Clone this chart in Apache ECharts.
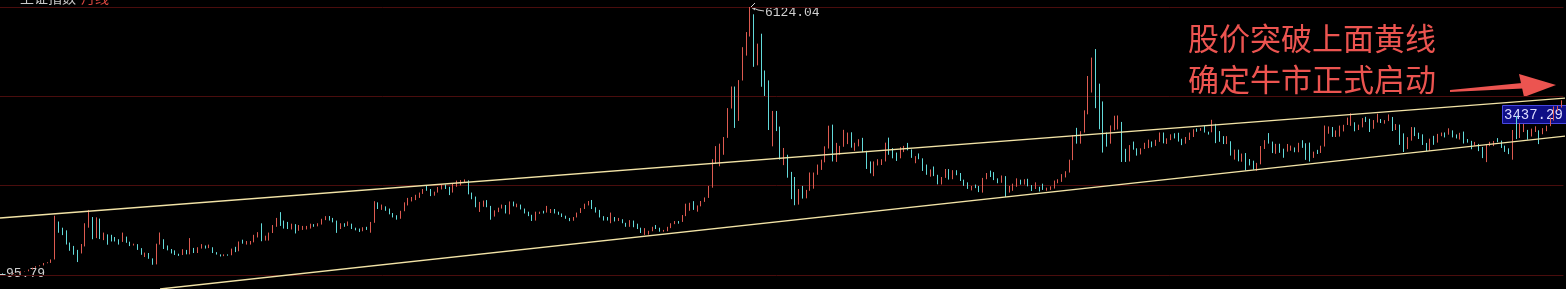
<!DOCTYPE html>
<html>
<head>
<meta charset="utf-8">
<script src="https://cdn.jsdelivr.net/npm/echarts@6/dist/echarts.min.js"></script>
<style>
html,body{margin:0;padding:0;background:#000;overflow:hidden;}
#wrap{position:relative;width:1566px;height:289px;overflow:hidden;}
#c{position:absolute;left:-11px;top:0;width:1580px;height:289px;}
</style>
</head>
<body>
<div id="wrap"><div id="c"></div></div>
<script>
// 上证指数 monthly K-line, Dec 1990 .. Oct 2025
const startYear = 1990, startMonth = 12;

const opens = [
  96,
  128,130,133,120,114,115,138,145,180,180,218,260,
  293,313,365,370,445,1266,1078,1049,825,705,628,617,
  780,1229,1389,925,1359,935,1007,913,892,889,846,953,
  834,770,785,681,555,588,467,334,793,870,702,664,
  648,563,549,651,596,701,630,709,719,712,716,598,
  555,537,549,545,659,634,825,816,836,838,981,1018,
  917,966,1042,1197,1350,1300,1243,1194,1209,1097,1178,1180,
  1194,1229,1212,1242,1343,1411,1339,1316,1167,1242,1217,1248,
  1147,1134,1090,1158,1120,1279,1689,1601,1627,1568,1473,1429,
  1367,1534,1714,1800,1836,1894,1928,2023,2021,1910,1961,2070,
  2073,2065,1959,2112,2119,2214,2218,1920,1834,1642,1689,1747,
  1646,1491,1524,1603,1667,1515,1732,1651,1666,1581,1507,1433,
  1358,1500,1511,1510,1521,1576,1487,1476,1421,1367,1348,1397,
  1497,1590,1675,1741,1595,1555,1399,1386,1342,1396,1321,1340,
  1267,1191,1306,1181,1159,1060,1080,1083,1162,1155,1092,1099,
  1161,1258,1299,1298,1440,1641,1672,1612,1658,1752,1837,2099,
  2675,2786,2881,3183,3841,4109,3820,4471,5218,5552,5954,4871,
  5262,4383,4348,3473,3693,3433,2736,2775,2397,2293,1728,1871,
  1821,1990,2082,2373,2477,2632,2959,3412,2667,2779,2995,3195,
  3277,2989,3051,3109,2870,2592,2398,2637,2638,2656,2979,2820,
  2808,2790,2905,2928,2911,2743,2762,2701,2567,2359,2468,2333,
  2199,2292,2428,2262,2396,2372,2225,2103,2047,2086,2068,1980,
  2269,2385,2365,2236,2177,2300,1979,1993,2098,2175,2141,2220,
  2116,2033,2056,2033,2026,2039,2048,2201,2217,2364,2420,2682,
  3235,3210,3310,3748,4441,4612,4277,3664,3206,3053,3383,3446,
  3539,2738,2688,3004,2938,2917,2930,2979,3085,3005,3100,3250,
  3104,3159,3242,3223,3155,3117,3192,3273,3361,3349,3393,3317,
  3307,3481,3259,3169,3082,3095,2847,2876,2725,2821,2603,2588,
  2494,2585,2941,3091,3078,2899,2979,2932,2886,2905,2929,2872,
  3050,2977,2880,2750,2860,2852,2985,3310,3396,3218,3225,3392,
  3473,3483,3509,3442,3447,3615,3591,3397,3544,3568,3547,3564,
  3640,3362,3462,3252,3047,3186,3399,3253,3202,3024,2893,3151,
  3089,3256,3280,3273,3323,3205,3202,3291,3120,3110,3018,3030,
  2975,2789,3015,3041,3105,3087,2967,2939,2842,3336,3279,3326,
  3352,3251,3321,3336,3279,3347,3444,3573,3858,3883
];

const highs = [
  128,
  135,134,135,121,115,138,146,181,182,219,260,293,
  314,365,383,446,1429.01,1299,1160,1100,826,750,661,793,
  1260,1558.95,1400,1393,1365,1050,1010,1000,950,900,1050,960,
  845,800,790,700,600,590,470,800,1052,900,760,680,
  650,575,675,660,926,705,720,790,760,780,720,610,
  560,560,560,690,730,850,890,860,860,1000,1060,1258,
  980,1050,1220,1380,1510,1320,1290,1250,1240,1220,1200,1200,
  1250,1240,1260,1360,1420,1422,1380,1320,1260,1260,1300,1250,
  1160,1140,1170,1180,1290,1756,1730,1680,1640,1590,1490,1440,
  1540,1730,1830,1850,1900,1950,2030,2100,2030,1970,2075,2126,
  2131,2080,2150,2220,2230,2245,2225,1950,1860,1740,1770,1780,
  1650,1550,1610,1680,1670,1750,1748,1700,1680,1590,1520,1450,
  1520,1520,1540,1650,1580,1580,1520,1480,1430,1380,1400,1500,
  1600,1700,1760,1783,1620,1560,1420,1400,1500,1400,1380,1350,
  1270,1330,1320,1250,1160,1150,1090,1180,1220,1160,1110,1180,
  1260,1310,1310,1445,1700,1720,1757,1660,1760,1840,2100,2700,
  2995,3050,3200,3850,4336,4335,4480,5220,5560,6124.04,5960,5300,
  5523,4696,4473,3786,3786,3434,2953,2800,2415,2300,2030,2100,
  2010,2402,2400,2580,2690,2990,3454,3478,3068,3000,3361,3300,
  3306,3070,3150,3181,2890,2650,2650,2700,2700,3073,3186,2950,
  2850,2970,3000,3067,2920,2770,2830,2720,2580,2470,2536,2350,
  2300,2480,2478,2454,2453,2390,2240,2180,2100,2130,2100,2280,
  2390,2444,2410,2270,2334,2320,2100,2150,2270,2240,2250,2260,
  2120,2180,2080,2150,2060,2090,2220,2250,2365,2430,2690,3239,
  3406,3330,3800,4572,4986,5178,4400,4000,3300,3460,3678,3684,
  3539,2934,3018,3097,2946,2945,3070,3140,3100,3136,3302,3301,
  3170,3260,3284,3295,3160,3200,3300,3375,3392,3400,3451,3320,
  3587,3495,3333,3220,3219,3104,2916,2915,2827,2839,2704,2667,
  2618,2997,3129,3288,3097,3046,3048,2937,3043,3006,2965,3069,
  3127,3059,3074,2870,2911,3004,3458,3437,3425,3348,3456,3474,
  3637,3732,3531,3477,3625,3654,3609,3581,3723,3604,3580,3708,
  3651,3491,3478,3282,3197,3424,3418,3296,3260,3067,3162,3226,
  3270,3300,3302,3396,3349,3258,3294,3322,3154,3114,3090,3044,
  2976,3030,3091,3111,3175,3118,3006,2945,3358,3674,3510,3494,
  3360,3388,3440,3350,3400,3455,3637,3888,3900,4025
];

const lows = [
  95.79,
  127,130,120,105,104,114,137,145,173,180,218,259,
  292,312,360,368,445,1046,993,781,640,551,387,580,
  738,1160,900,925,904,880,777,850,850,780,840,820,
  746,760,660,550,500,460,326,334,780,680,650,580,
  545,525,545,560,560,590,590,690,690,700,590,555,
  512,520,530,540,610,630,800,780,780,830,940,855,
  870,870,1040,1180,1200,1140,1130,1120,1030,1090,1110,1120,
  1140,1180,1190,1230,1330,1320,1280,1043,1130,1180,1200,1130,
  1100,1064,1080,1110,1047,1270,1580,1560,1540,1460,1390,1341,
  1361,1530,1660,1750,1780,1830,1920,1990,1870,1880,1950,2020,
  2030,1893,1950,2080,2110,2170,1910,1800,1620,1514,1630,1620,
  1339,1410,1510,1590,1480,1460,1640,1620,1570,1480,1420,1311,
  1320,1470,1480,1500,1490,1480,1450,1400,1360,1307,1316,1390,
  1490,1580,1660,1580,1500,1390,1320,1320,1260,1300,1310,1260,
  1180,1180,1170,1130,1040,998,1004,1080,1130,1070,1070,1080,
  1150,1240,1250,1290,1420,1540,1560,1520,1640,1740,1830,2060,
  2605,2541,2800,3180,3840,3404,3563,4470,5030,5460,4778,4812,
  4330,4123,3357,2990,3333,2693,2567,2284,1802,1665,1679,1814,
  1820,1990,2037,2350,2460,2630,2940,2650,2639,2800,2980,3040,
  2960,2890,2990,2860,2481,2382,2319,2560,2570,2650,2800,2720,
  2661,2720,2860,2900,2730,2610,2700,2437,2350,2307,2320,2135,
  2132,2280,2242,2250,2340,2210,2100,2032,1999,2050,1960,1949,
  2250,2300,2230,2160,2170,1850,1950,1990,2080,2130,2130,2090,
  1985,2030,1974,2010,1991,2010,2040,2160,2190,2290,2400,2680,
  3050,3050,3300,3710,4200,3848,3374,2850,2983,3050,3350,3370,
  2638,2638,2650,2915,2781,2808,2930,2950,2969,3000,3090,3057,
  3044,3130,3167,3097,3017,3050,3132,3200,3317,3340,3300,3254,
  3306,3062,3091,3041,3041,2782,2691,2653,2644,2449,2560,2463,
  2440,2585,2930,3051,2838,2822,2844,2733,2870,2891,2857,2857,
  2956,2685,2647,2730,2818,2840,2985,3273,3202,3200,3209,3325,
  3470,3451,3328,3357,3417,3536,3312,3385,3526,3514,3499,3558,
  3334,3357,3023,2863,2928,3118,3220,3155,3021,2885,2885,3024,
  3074,3218,3190,3252,3190,3167,3143,3053,3073,2924,3005,2882,
  2725,2635,2994,2995,3083,2953,2865,2815,2689,3153,3177,3311,
  3140,3211,3313,3040,3262,3330,3443,3569,3779,3862
];

const closes = [
  128,
  130,133,120,114,115,138,145,180,180,218,260,293,
  313,365,370,445,1266,1078,1049,825,705,628,617,780,
  1229,1389,925,1359,935,1007,913,892,889,846,953,834,
  770,785,681,555,588,467,334,793,870,702,664,648,
  563,549,651,596,701,630,709,719,712,716,598,555,
  537,549,545,659,634,825,816,836,838,981,1018,917,
  966,1042,1197,1350,1300,1243,1194,1209,1097,1178,1180,1194,
  1229,1212,1242,1343,1411,1339,1316,1167,1242,1217,1248,1147,
  1134,1090,1158,1120,1279,1689,1601,1627,1568,1473,1429,1367,
  1534,1714,1800,1836,1894,1928,2023,2021,1910,1961,2070,2073,
  2065,1959,2112,2119,2214,2218,1920,1834,1642,1689,1747,1646,
  1491,1524,1603,1667,1515,1732,1651,1666,1581,1507,1433,1358,
  1500,1511,1510,1521,1576,1487,1476,1421,1367,1348,1397,1497,
  1590,1675,1741,1595,1555,1399,1386,1342,1396,1321,1340,1267,
  1191,1306,1181,1159,1060,1080,1083,1162,1155,1092,1099,1161,
  1258,1299,1298,1440,1641,1672,1612,1658,1752,1837,2099,2675,
  2786,2881,3183,3841,4109,3820,4471,5218,5552,5954,4871,5262,
  4383,4348,3473,3693,3433,2736,2775,2397,2293,1728,1871,1821,
  1990,2082,2373,2477,2632,2959,3412,2667,2779,2995,3195,3277,
  2989,3051,3109,2870,2592,2398,2637,2638,2656,2979,2820,2808,
  2790,2905,2928,2911,2743,2762,2701,2567,2359,2468,2333,2199,
  2292,2428,2262,2396,2372,2225,2103,2047,2086,2068,1980,2269,
  2385,2365,2236,2177,2300,1979,1993,2098,2175,2141,2220,2116,
  2033,2056,2033,2026,2039,2048,2201,2217,2364,2420,2682,3235,
  3210,3310,3748,4441,4612,4277,3664,3206,3053,3383,3446,3539,
  2738,2688,3004,2938,2917,2930,2979,3085,3005,3100,3250,3104,
  3159,3242,3223,3155,3117,3192,3273,3361,3349,3393,3317,3307,
  3481,3259,3169,3082,3095,2847,2876,2725,2821,2603,2588,2494,
  2585,2941,3091,3078,2899,2979,2932,2886,2905,2929,2872,3050,
  2977,2880,2750,2860,2852,2985,3310,3396,3218,3225,3392,3473,
  3483,3509,3442,3447,3615,3591,3397,3544,3568,3547,3564,3640,
  3362,3462,3252,3047,3186,3399,3253,3202,3024,2893,3151,3089,
  3256,3280,3273,3323,3205,3202,3291,3120,3110,3018,3030,2975,
  2789,3015,3041,3105,3087,2967,2939,2842,3336,3279,3326,3352,
  3251,3321,3336,3279,3347,3444,3573,3858,3883,3955
];

// channel (trend) lines: [month index, index value]
const upperChannel = [[2.36, 1378], [419.2, 4077]];
const lowerChannel = [[44.95, -219], [419.2, 3222]];

// texts
const titleMain = '上证指数';
const titlePeriod = '月线';
const maxLabel = '6124.04';
const minLabel = '95.79';
const lastLabel = '3437.29';
const noteLine1 = '股价突破上面黄线';
const noteLine2 = '确定牛市正式启动';

const yMin = 95.79, yMax = 6124.04;

const months = [];
for (let i = 0; i < closes.length; i++) {
  const m = startMonth - 1 + i;
  const y = startYear + Math.floor(m / 12);
  const mm = (m % 12) + 1;
  months.push(y + '-' + (mm < 10 ? '0' + mm : mm));
}
const kData = closes.map((c, i) => [opens[i], c, lows[i], highs[i]]);

const UP = '#dd5a50', DOWN = '#62dada', YEL = '#f2e3a6', NOTE = '#ec5450';

// the chart canvas is shifted 11px left (the first candles are scrolled off-screen);
// OX converts screen x positions of the overlay annotations into canvas x
const OX = 11;
const chart = echarts.init(document.getElementById('c'), null, {renderer: 'canvas'});
const N = closes.length;
const band = 3.757;

chart.setOption({
  backgroundColor: '#000',
  animation: false,
  grid: {left: 0.25, top: 7, width: band * N, height: 268, containLabel: false},
  xAxis: [
    {type: 'category', data: months, boundaryGap: true, show: false},
    {type: 'value', min: -0.5, max: N - 0.5, show: false}
  ],
  yAxis: [
    {type: 'value', min: yMin, max: yMax, show: false, splitLine: {show: false}},
    {type: 'value', min: 0, max: 3, interval: 1, show: true,
     axisLine: {show: false}, axisTick: {show: false}, axisLabel: {show: false},
     splitLine: {show: true, lineStyle: {color: '#4a0d0d', width: 1}}}
  ],
  series: [
    {
      type: 'candlestick', xAxisIndex: 0, yAxisIndex: 0,
      data: kData, barWidth: 1,
      itemStyle: {color: UP, color0: DOWN, borderColor: UP, borderColor0: DOWN, borderWidth: 1}
    },
    {
      type: 'line', xAxisIndex: 1, yAxisIndex: 0, data: upperChannel,
      symbol: 'none', clip: false, silent: true,
      lineStyle: {color: YEL, width: 1.4}
    },
    {
      type: 'line', xAxisIndex: 1, yAxisIndex: 0, data: lowerChannel,
      symbol: 'none', clip: false, silent: true,
      lineStyle: {color: YEL, width: 1.4}
    }
  ],
  graphic: [
    {type: 'text', x: OX + 20, y: -2, style: {text: titleMain, fill: '#c8c8c8', font: '14px "Noto Sans CJK SC"', verticalAlign: 'middle'}},
    {type: 'text', x: OX + 81, y: -2, style: {text: titlePeriod, fill: '#d8453f', font: '14px "Noto Sans CJK SC"', verticalAlign: 'middle'}},
    // max marker
    {type: 'polyline', shape: {points: [[OX + 755, 3], [OX + 751, 7], [OX + 755, 10]]}, style: {stroke: '#d0d0d0', lineWidth: 1, fill: null}},
    {type: 'polyline', shape: {points: [[OX + 751, 7], [OX + 758, 10], [OX + 764, 11]]}, style: {stroke: '#d0d0d0', lineWidth: 1, fill: null}},
    {type: 'text', x: OX + 765, y: 13, style: {text: maxLabel, fill: '#d0d0d0', font: '13px "Liberation Mono"', verticalAlign: 'middle'}},
    // min marker
    {type: 'line', shape: {x1: OX + 0, y1: 274.5, x2: OX + 5, y2: 274.5}, style: {stroke: '#d0d0d0', lineWidth: 1}},
    {type: 'text', x: OX + 6, y: 274, style: {text: minLabel, fill: '#d0d0d0', font: '13px "Liberation Mono"', verticalAlign: 'middle', backgroundColor: '#000'}},
    // last price box
    {type: 'rect', shape: {x: OX + 1502.5, y: 105.5, width: 66, height: 18}, style: {fill: '#0e0e86', stroke: '#4848e0', lineWidth: 1}},
    {type: 'text', x: OX + 1504, y: 115, style: {text: lastLabel, fill: '#dcdcff', font: '14px "Liberation Mono"', verticalAlign: 'middle'}},
    // note text
    {type: 'text', x: OX + 1188, y: 38, style: {text: noteLine1, fill: NOTE, font: '31px "Noto Sans CJK SC"', verticalAlign: 'middle'}},
    {type: 'text', x: OX + 1188, y: 79, style: {text: noteLine2, fill: NOTE, font: '31px "Noto Sans CJK SC"', verticalAlign: 'middle'}},
    // arrow
    {type: 'polygon', shape: {points: [[OX + 1450, 90], [OX + 1522, 83], [OX + 1523, 88.5], [OX + 1450, 92]]}, style: {fill: NOTE}},
    {type: 'polygon', shape: {points: [[OX + 1519, 74], [OX + 1556, 85], [OX + 1524, 97]]}, style: {fill: NOTE}}
  ]
});
</script>
</body>
</html>
